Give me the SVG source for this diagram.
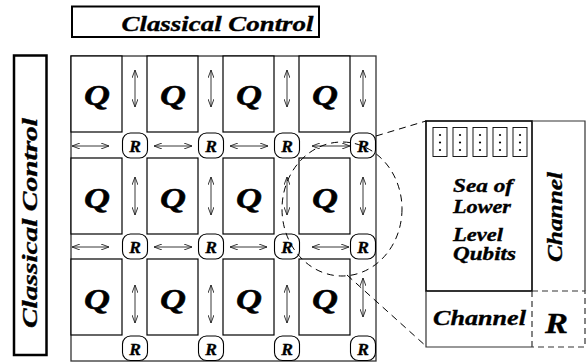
<svg xmlns="http://www.w3.org/2000/svg" width="586" height="363" viewBox="0 0 586 363">
  <style>
    .t { font-family: "Liberation Serif", "Times New Roman", serif; font-weight: bold; font-style: italic; fill: #000; stroke: #000; stroke-width: 0.35; }
    .q { font-size: 30px; text-anchor: middle; stroke-width: 0.5; }
    .r { font-size: 17.5px; text-anchor: middle; }
    .qbox { fill: #fff; stroke: #000; stroke-width: 1.2; }
    .rbox { fill: #fff; stroke: #000; stroke-width: 1.1; }
    .arr { stroke: #222; stroke-width: 0.9; fill: none; marker-start: url(#head); marker-end: url(#head); }
    .dash { stroke: #000; stroke-width: 1; fill: none; stroke-dasharray: 7 5; }
    .cell { fill: #fff; stroke: #000; stroke-width: 0.9; }
  </style>
  <defs>
    <marker id="head" viewBox="0 0 8 6" refX="8" refY="3" markerWidth="8" markerHeight="6" markerUnits="userSpaceOnUse" orient="auto-start-reverse">
      <path d="M0,0 L8,3 L0,6" fill="none" stroke="#222" stroke-width="0.9"/>
    </marker>
  </defs>
  <rect width="586" height="363" fill="#fff"/>

  <!-- classical control bars -->
  <g id="control-top">
    <rect x="72" y="6.5" width="247" height="30.5" fill="#fff" stroke="#000" stroke-width="2"/>
    <text class="t" x="121.5" y="31" font-size="22" textLength="192" lengthAdjust="spacingAndGlyphs">Classical Control</text>
  </g>
  <g id="control-left">
    <rect x="14" y="55.5" width="32.5" height="299.5" fill="#fff" stroke="#000" stroke-width="2.5"/>
    <text class="t" font-size="22" text-anchor="middle" transform="translate(37,223) rotate(-90)" textLength="210" lengthAdjust="spacingAndGlyphs">Classical Control</text>
  </g>

  <!-- lattice of qubit tiles and routers -->
  <g id="lattice">
    <rect x="71" y="56" width="305" height="305" fill="#fff" stroke="#333" stroke-width="1.3"/>
  </g>

  <g id="q-r1c1"><rect class="qbox" x="71" y="56" width="51" height="76"/><text class="t q" x="97" y="105" textLength="26" lengthAdjust="spacingAndGlyphs">Q</text></g>
  <g id="q-r1c2"><rect class="qbox" x="147" y="56" width="51" height="76"/><text class="t q" x="173" y="105" textLength="26" lengthAdjust="spacingAndGlyphs">Q</text></g>
  <g id="q-r1c3"><rect class="qbox" x="223" y="56" width="51" height="76"/><text class="t q" x="249" y="105" textLength="26" lengthAdjust="spacingAndGlyphs">Q</text></g>
  <g id="q-r1c4"><rect class="qbox" x="299" y="56" width="51" height="76"/><text class="t q" x="325" y="105" textLength="26" lengthAdjust="spacingAndGlyphs">Q</text></g>
  <g id="q-r2c1"><rect class="qbox" x="71" y="158" width="51" height="76"/><text class="t q" x="97" y="207.5" textLength="26" lengthAdjust="spacingAndGlyphs">Q</text></g>
  <g id="q-r2c2"><rect class="qbox" x="147" y="158" width="51" height="76"/><text class="t q" x="173" y="207.5" textLength="26" lengthAdjust="spacingAndGlyphs">Q</text></g>
  <g id="q-r2c3"><rect class="qbox" x="223" y="158" width="51" height="76"/><text class="t q" x="249" y="207.5" textLength="26" lengthAdjust="spacingAndGlyphs">Q</text></g>
  <g id="q-r2c4"><rect class="qbox" x="299" y="158" width="51" height="76"/><text class="t q" x="325" y="207.5" textLength="26" lengthAdjust="spacingAndGlyphs">Q</text></g>
  <g id="q-r3c1"><rect class="qbox" x="71" y="259" width="51" height="76"/><text class="t q" x="97" y="308.5" textLength="26" lengthAdjust="spacingAndGlyphs">Q</text></g>
  <g id="q-r3c2"><rect class="qbox" x="147" y="259" width="51" height="76"/><text class="t q" x="173" y="308.5" textLength="26" lengthAdjust="spacingAndGlyphs">Q</text></g>
  <g id="q-r3c3"><rect class="qbox" x="223" y="259" width="51" height="76"/><text class="t q" x="249" y="308.5" textLength="26" lengthAdjust="spacingAndGlyphs">Q</text></g>
  <g id="q-r3c4"><rect class="qbox" x="299" y="259" width="51" height="76"/><text class="t q" x="325" y="308.5" textLength="26" lengthAdjust="spacingAndGlyphs">Q</text></g>

  <g id="r-r1c1"><rect class="rbox" x="122.5" y="133" width="25" height="25" rx="8"/><text class="t r" x="135" y="151.5">R</text></g>
  <g id="r-r1c2"><rect class="rbox" x="198.5" y="133" width="25" height="25" rx="8"/><text class="t r" x="211" y="151.5">R</text></g>
  <g id="r-r1c3"><rect class="rbox" x="274.5" y="133" width="25" height="25" rx="8"/><text class="t r" x="287" y="151.5">R</text></g>
  <g id="r-r1c4"><rect class="rbox" x="350.5" y="133" width="25" height="25" rx="8"/><text class="t r" x="363" y="151.5">R</text></g>
  <g id="r-r2c1"><rect class="rbox" x="122.5" y="234" width="25" height="25" rx="8"/><text class="t r" x="135" y="252.5">R</text></g>
  <g id="r-r2c2"><rect class="rbox" x="198.5" y="234" width="25" height="25" rx="8"/><text class="t r" x="211" y="252.5">R</text></g>
  <g id="r-r2c3"><rect class="rbox" x="274.5" y="234" width="25" height="25" rx="8"/><text class="t r" x="287" y="252.5">R</text></g>
  <g id="r-r2c4"><rect class="rbox" x="350.5" y="234" width="25" height="25" rx="8"/><text class="t r" x="363" y="252.5">R</text></g>
  <g id="r-r3c1"><rect class="rbox" x="122.5" y="336" width="25" height="24.5" rx="8"/><text class="t r" x="135" y="354.5">R</text></g>
  <g id="r-r3c2"><rect class="rbox" x="198.5" y="336" width="25" height="24.5" rx="8"/><text class="t r" x="211" y="354.5">R</text></g>
  <g id="r-r3c3"><rect class="rbox" x="274.5" y="336" width="25" height="24.5" rx="8"/><text class="t r" x="287" y="354.5">R</text></g>
  <g id="r-r3c4"><rect class="rbox" x="350.5" y="336" width="25" height="24.5" rx="8"/><text class="t r" x="363" y="354.5">R</text></g>

  <!-- channel connectors -->
  <g id="connectors">
    <line class="arr" x1="135" y1="70" x2="135" y2="107"/>
    <line class="arr" x1="211" y1="70" x2="211" y2="107"/>
    <line class="arr" x1="287" y1="70" x2="287" y2="107"/>
    <line class="arr" x1="363" y1="70" x2="363" y2="107"/>
    <line class="arr" x1="135" y1="177" x2="135" y2="215"/>
    <line class="arr" x1="211" y1="177" x2="211" y2="215"/>
    <line class="arr" x1="287" y1="177" x2="287" y2="215"/>
    <line class="arr" x1="363" y1="177" x2="363" y2="215"/>
    <line class="arr" x1="135" y1="285" x2="135" y2="323"/>
    <line class="arr" x1="211" y1="285" x2="211" y2="323"/>
    <line class="arr" x1="287" y1="285" x2="287" y2="323"/>
    <line class="arr" x1="363" y1="278" x2="363" y2="317"/>

    <line class="arr" x1="72" y1="146" x2="109" y2="146"/>
    <line class="arr" x1="154" y1="146" x2="192" y2="146"/>
    <line class="arr" x1="230" y1="146" x2="268" y2="146"/>
    <line class="arr" x1="312" y1="146" x2="350" y2="146"/>
    <line class="arr" x1="72" y1="247" x2="109" y2="247"/>
    <line class="arr" x1="154" y1="247" x2="192" y2="247"/>
    <line class="arr" x1="230" y1="247" x2="267" y2="247"/>
    <line class="arr" x1="312" y1="247" x2="349" y2="247"/>
  </g>

  <!-- magnified tile -->
  <g id="zoom-callout">
    <ellipse class="dash" cx="342" cy="209" rx="60" ry="67"/>
    <line class="dash" x1="376" y1="136" x2="426" y2="121"/>
    <line class="dash" x1="347" y1="275" x2="427" y2="347"/>
  </g>

  <g id="tile-detail">
    <rect x="426" y="121" width="106" height="170" fill="#fff" stroke="#000" stroke-width="1.6"/>
    <path d="M532,121 H585 V291 M426,291 V347 H532" fill="none" stroke="#333" stroke-width="1.2"/>
    <path d="M532,291 V347 M532,291 H585 V347 H532" fill="none" stroke="#333" stroke-width="1.2" stroke-dasharray="6 4"/>
    <g id="lower-level-qubits">
      <rect class="cell" x="433" y="127.5" width="14" height="29"/>
      <rect class="cell" x="453" y="127.5" width="14" height="29"/>
      <rect class="cell" x="473" y="127.5" width="14" height="29"/>
      <rect class="cell" x="493" y="127.5" width="14" height="29"/>
      <rect class="cell" x="513" y="127.5" width="14" height="29"/>
      <g fill="#000">
        <circle cx="440" cy="135" r="1.1"/><circle cx="440" cy="142.5" r="1.1"/><circle cx="440" cy="150" r="1.1"/>
        <circle cx="460" cy="135" r="1.1"/><circle cx="460" cy="142.5" r="1.1"/><circle cx="460" cy="150" r="1.1"/>
        <circle cx="480" cy="135" r="1.1"/><circle cx="480" cy="142.5" r="1.1"/><circle cx="480" cy="150" r="1.1"/>
        <circle cx="500" cy="135" r="1.1"/><circle cx="500" cy="142.5" r="1.1"/><circle cx="500" cy="150" r="1.1"/>
        <circle cx="520" cy="135" r="1.1"/><circle cx="520" cy="142.5" r="1.1"/><circle cx="520" cy="150" r="1.1"/>
      </g>
    </g>
    <text class="t" font-size="18.5" x="453" y="191.5" textLength="60" lengthAdjust="spacingAndGlyphs">Sea of</text>
    <text class="t" font-size="18.5" x="453" y="212.5" textLength="58" lengthAdjust="spacingAndGlyphs">Lower</text>
    <text class="t" font-size="18.5" x="453" y="240.5" textLength="50" lengthAdjust="spacingAndGlyphs">Level</text>
    <text class="t" font-size="18.5" x="453" y="260" textLength="63" lengthAdjust="spacingAndGlyphs">Qubits</text>
    <text class="t" font-size="22" text-anchor="middle" transform="translate(561.5,217) rotate(-90)" textLength="90" lengthAdjust="spacingAndGlyphs">Channel</text>
    <text class="t" font-size="22" x="433" y="325" textLength="93" lengthAdjust="spacingAndGlyphs">Channel</text>
    <text class="t" font-size="30" x="545" y="333" textLength="23" lengthAdjust="spacingAndGlyphs">R</text>
  </g>
</svg>
